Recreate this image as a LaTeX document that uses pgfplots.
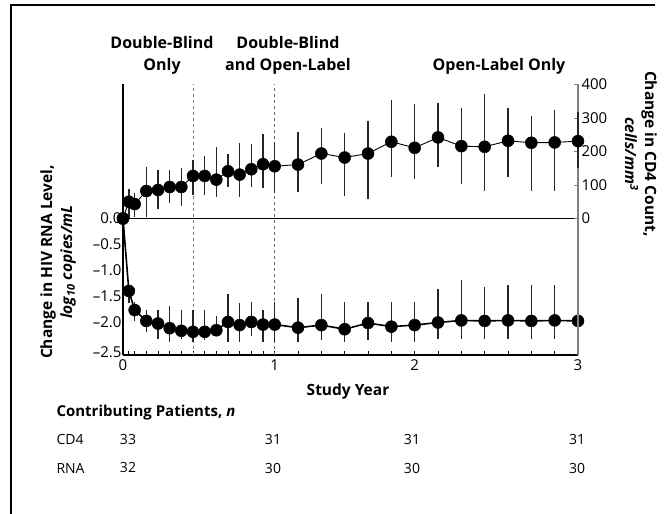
\documentclass[border=0pt]{standalone}
\usepackage{fontspec}
\setmainfont{Open Sans}
\usepackage{pgfplots}
\usepackage{pgfplotstable}
\pgfplotsset{compat=1.18}

\pgfplotstableread{
x y ep em
0 0 0 0
0.0385 -1.40 0.12 0.24
0.0769 -1.77 0.16 0.22
0.1538 -1.98 0.21 0.21
0.2308 -2.03 0.26 0.29
0.3077 -2.12 0.42 0.26
0.3846 -2.17 0.40 0.15
0.4615 -2.19 0.42 0.19
0.5385 -2.19 0.42 0.16
0.6154 -2.16 0.28 0.12
0.6923 -2.00 0.54 0.38
0.7692 -2.06 0.42 0.32
0.8462 -2.00 0.39 0.28
0.9231 -2.05 0.28 0.33
1.0000 -2.05 0.44 0.33
1.1538 -2.11 0.57 0.27
1.3077 -2.06 0.60 0.29
1.4615 -2.14 0.53 0.24
1.6154 -2.02 0.41 0.33
1.7692 -2.09 0.48 0.29
1.9231 -2.06 0.45 0.32
2.0769 -2.01 0.64 0.32
2.2308 -1.97 0.78 0.35
2.3846 -1.98 0.65 0.35
2.5385 -1.97 0.69 0.35
2.6923 -1.98 0.70 0.34
2.8462 -1.97 0.69 0.35
3.0000 -1.98 0.66 0.34
}\rnadata

\pgfplotstableread{
x y ep em
0 0 0 0
0.0385 50 37 50
0.0769 43 33 38
0.1538 82 72 77
0.2308 85 61 58
0.3077 94 52 47
0.3846 94 58 56
0.4615 127 47 57
0.5385 127 60 57
0.6154 116 96 52
0.6923 141 51 47
0.7692 131 93 67
0.8462 147 75 53
0.9231 162 90 71
1.0000 156 73 81
1.1538 161 98 81
1.3077 194 75 90
1.4615 182 72 115
1.6154 194 96 137
1.7692 229 124 105
1.9231 211 130 92
2.0769 242 103 88
2.2308 216 114 112
2.3846 214 159 133
2.5385 232 99 108
2.6923 226 79 145
2.8462 227 98 146
3.0000 231 87 81
}\cdfourdata

\begin{document}
\begin{tikzpicture}
\path[use as bounding box] (0pt,0pt) rectangle (664pt,514pt);
\draw[line width=1.5pt] (11pt,0pt) -- (11pt,509pt) -- (655pt,509pt);

\begin{axis}[
  at={(123pt,159pt)}, anchor=south west, scale only axis,
  width=455pt, height=271pt,
  xmin=0, xmax=3, ymin=-2.638, ymax=2.599,
  axis x line*=bottom, axis y line*=left,
  axis line style={-, line width=1.2pt},
  xtick={0,1,1.9231,3}, xticklabels={0,1,2,3},
  minor xtick={0.0385,0.0769,0.1538,0.2308,0.3077,0.3846,0.4615,0.5385,0.6154,0.6923,0.7692,0.8462,0.9231,1.1538,1.3077,1.4615,1.6154,1.7692,2.0769,2.2308,2.3846,2.5385,2.6923,2.8462},
  ytick={0,-0.5,-1,-1.5,-2,-2.59},
  yticklabels={0.0,--0.5,--1.0,--1.5,--2.0,--2.5},
  tick align=inside, major tick length=4pt, minor tick length=4pt,
  xtick style={black, line width=0.8pt},
  minor tick style={black, line width=0.8pt},
  ytick style={draw=none},
  tick label style={font=\fontsize{15}{15}\selectfont},
  xticklabel style={yshift=-1pt},
  yticklabel style={xshift=2pt},
  clip=false,
]
\addplot[black, line width=1pt, forget plot] coordinates {(0,0) (3,0)};
\addplot[gray, dashed, line width=0.6pt, forget plot] coordinates {(0.4615,-2.638) (0.4615,2.599)};
\addplot[gray!80!black, dashed, line width=0.6pt, forget plot] coordinates {(1,-2.638) (1,2.599)};
\addplot[black, line width=1.6pt, mark=*, mark size=6pt, mark options={fill=black, line width=0.5pt},
  error bars/.cd, y dir=both, y explicit, error mark=none,
  error bar style={line width=1.4pt, black!85}]
  table[x=x, y=y, y error plus=ep, y error minus=em] {\rnadata};
\end{axis}

\begin{axis}[
  at={(123pt,159pt)}, anchor=south west, scale only axis,
  width=455pt, height=271pt,
  xmin=0, xmax=3, ymin=-407.5, ymax=401.5,
  axis x line=none, axis y line*=right,
  y axis line style={-, gray, line width=1.2pt},
  ytick={0,100,200,300,400},
  tick align=inside, major tick length=4pt,
  ytick style={gray, line width=0.8pt},
  tick label style={font=\fontsize{15}{15}\selectfont},
  /pgf/number format/assume math mode=true,
  clip=false,
]
\addplot[black, line width=0.9pt, mark=*, mark size=6pt, mark options={fill=black, line width=0.5pt},
  error bars/.cd, y dir=both, y explicit, error mark=none,
  error bar style={line width=1.4pt, black!85}]
  table[x=x, y=y, y error plus=ep, y error minus=em] {\cdfourdata};
\end{axis}

% titles
\node[font=\fontsize{16}{22}\selectfont\bfseries, align=center] at (162pt,459pt) {Double-Blind\\Only};
\node[font=\fontsize{16}{22}\selectfont\bfseries, align=center] at (288pt,459pt) {Double-Blind\\and Open-Label};
\node[font=\fontsize{16}{22}\selectfont\bfseries] at (499pt,448pt) {Open-Label Only};

% axis labels
\node[font=\fontsize{15.5}{20}\selectfont\bfseries, align=center, rotate=90] at (58pt,252pt)
  {Change in HIV RNA Level,\\\textit{log\textsubscript{10} copies/mL}};
\node[font=\fontsize{15.5}{20}\selectfont\bfseries, align=center, rotate=-90] at (641pt,360pt)
  {Change in CD4 Count,\\\textit{cells/mm\textsuperscript{3}}};
\node[font=\fontsize{15.5}{15}\selectfont\bfseries] at (348pt,123pt) {Study Year};

% table
\node[font=\fontsize{15}{15}\selectfont\bfseries, anchor=west] at (53pt,101pt) {Contributing Patients, \textit{n}};
\begin{scope}[every node/.style={font=\fontsize{14}{14}\selectfont}]
\node[anchor=west] at (53pt,74pt) {CD4};
\node at (128pt,74pt) {33};
\node at (273pt,74pt) {31};
\node at (412pt,74pt) {31};
\node at (577pt,74pt) {31};
\node[anchor=west] at (53pt,46pt) {RNA};
\node at (128pt,46pt) {32};
\node at (273pt,46pt) {30};
\node at (412pt,46pt) {30};
\node at (577pt,46pt) {30};
\end{scope}
\end{tikzpicture}
\end{document}
